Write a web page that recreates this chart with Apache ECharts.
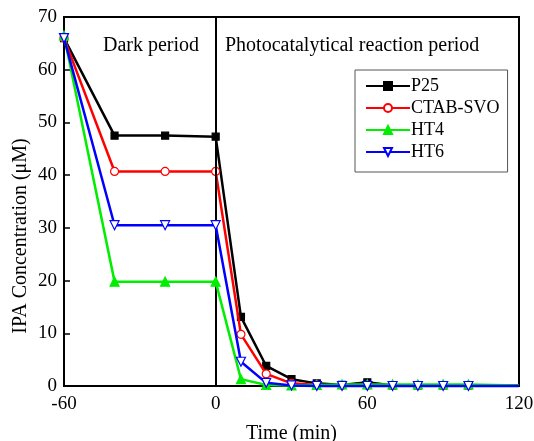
<!DOCTYPE html>
<html><head><meta charset="utf-8">
<script src="https://cdn.jsdelivr.net/npm/echarts@6/dist/echarts.min.js"></script>
<style>html,body{margin:0;padding:0;background:#fff}#c{width:534px;height:441px}</style>
</head><body><div id="c"></div>
<script>
const times = [-60, -40, -20, 0, 10, 20, 30, 40, 50, 60, 70, 80, 90, 100, 120];
const seriesNames = ['P25', 'CTAB-SVO', 'HT4', 'HT6'];
const p25 = [66.0, 47.5, 47.5, 47.3, 13.1, 3.8, 1.3, 0.5, 0.2, 0.7, 0.1, 0.1, 0.1, 0.1, 0.1];
const ctab = [66.0, 40.7, 40.7, 40.7, 9.8, 2.3, 0.5, 0.2, 0.1, 0.1, 0.1, 0.1, 0.1, 0.1, 0.1];
const ht4 = [66.5, 19.8, 19.8, 19.8, 1.3, 0.2, 0.1, 0.2, 0.3, 0.3, 0.3, 0.3, 0.3, 0.3, 0.1];
const ht6 = [66.0, 30.5, 30.5, 30.5, 4.6, 0.6, 0.1, 0.0, 0.0, 0.0, 0.0, 0.0, 0.0, 0.0, 0.0];
const xTicks = [-60, 0, 60, 120];
const yTicks = [0, 10, 20, 30, 40, 50, 60, 70];

const serif = 'Liberation Serif, Times New Roman, serif';
const styles = [
  {color: '#000000', symbol: 'rect', size: 7, fill: '#000000'},
  {color: '#ff0000', symbol: 'circle', size: 8, fill: '#ffffff'},
  {color: '#00ee00', symbol: 'triangle', size: 9, fill: '#00ee00'},
  {color: '#0000ff', symbol: 'path://M0,0 L10,0 L5,9 Z', size: 9, fill: '#ffffff'}
];
const values = [p25, ctab, ht4, ht6];
function build(vals) {
  return times.map((t, i) => i === times.length - 1 ? {value: [t, vals[i]], symbol: 'none'} : [t, vals[i]]);
}
const series = seriesNames.map((n, k) => ({
  name: n,
  type: 'line',
  data: build(values[k]),
  symbol: styles[k].symbol,
  symbolSize: styles[k].size,
  showAllSymbol: true,
  clip: false,
  lineStyle: {color: styles[k].color, width: 2.5},
  itemStyle: {color: styles[k].fill, borderColor: styles[k].color, borderWidth: 1.2},
  z: 3 + k
}));
series[0].markLine = {
  silent: true, symbol: 'none', label: {show: false},
  lineStyle: {color: '#000', width: 2, type: 'solid'},
  data: [{xAxis: 0}]
};

const chart = echarts.init(document.getElementById('c'));
chart.setOption({
  animation: false,
  backgroundColor: '#fff',
  grid: {left: 64, right: 15, top: 17, bottom: 55, outerBoundsMode: 'none', containLabel: false, show: true, borderColor: '#000', borderWidth: 2, backgroundColor: 'transparent'},
  xAxis: {
    type: 'value', min: xTicks[0], max: xTicks[xTicks.length - 1], interval: 60,
    name: 'Time (min)', nameLocation: 'middle', nameGap: 38,
    nameTextStyle: {fontFamily: serif, fontSize: 20, color: '#000'},
    axisLine: {onZero: false, lineStyle: {color: '#000', width: 2}},
    axisTick: {show: false},
    splitLine: {show: false},
    axisLabel: {fontFamily: serif, fontSize: 19, color: '#000', margin: 9}
  },
  yAxis: {
    type: 'value', min: yTicks[0], max: yTicks[yTicks.length - 1], interval: 10,
    axisLine: {onZero: false, lineStyle: {color: '#000', width: 2}},
    axisTick: {inside: true, length: 6, lineStyle: {color: '#000', width: 1.5}},
    splitLine: {show: false},
    axisLabel: {fontFamily: serif, fontSize: 19, color: '#000', margin: 7}
  },
  legend: {
    orient: 'vertical', left: 355, top: 70,
    data: seriesNames,
    backgroundColor: '#fff',
    borderColor: '#555', borderWidth: 1,
    padding: [7, 8, 11, 10],
    itemGap: 4, itemWidth: 44, itemHeight: 10,
    textStyle: {fontFamily: serif, fontSize: 18, color: '#000', padding: [0, 0, 0, -4]}
  },
  graphic: [
    {type: 'text', left: 103, top: 36, style: {text: 'Dark period', font: '20px ' + serif, fill: '#000'}},
    {type: 'text', left: 225, top: 36, style: {text: 'Photocatalytical reaction period', font: '20px ' + serif, fill: '#000'}},
    {type: 'text', x: 21, y: 236, rotation: Math.PI / 2, style: {text: 'IPA Concentration (μM)', font: '20px ' + serif, fill: '#000', align: 'center', verticalAlign: 'middle'}}
  ],
  series: series
});
</script></body></html>
